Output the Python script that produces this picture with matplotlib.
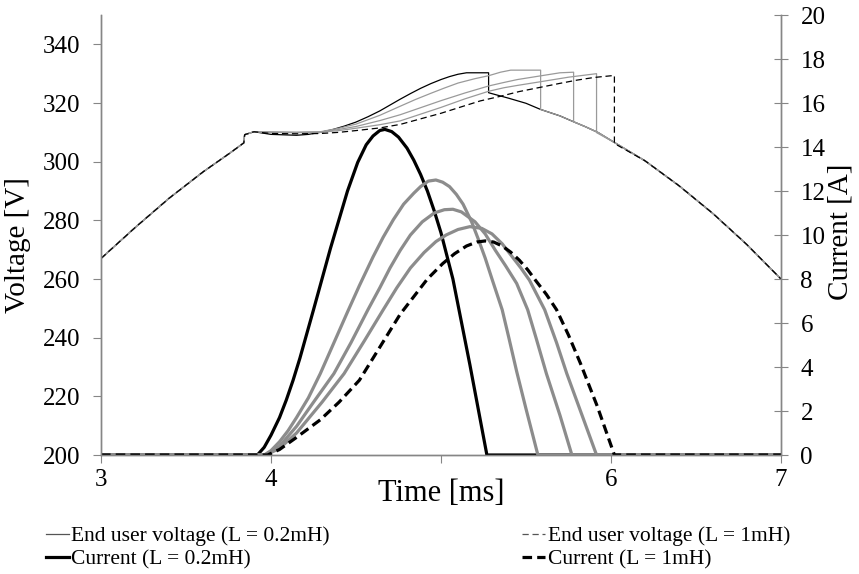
import matplotlib
matplotlib.use("Agg")
import matplotlib.pyplot as plt
from matplotlib.lines import Line2D

plt.rcParams['font.family'] = ['Liberation Serif', 'DejaVu Serif']

# --- data (time in ms) ---
# shared voltage arc before the diodes conduct
t_pre = [3.0, 3.2, 3.4, 3.6, 3.76, 3.84, 3.845, 3.9]
v_pre = [267, 277.5, 287.5, 296.5, 303, 306.4, 309.2, 310.2]

# shared voltage arc after conduction stops
t_post = [5.28, 5.4, 5.5, 5.586, 5.7, 5.78, 5.85, 5.925, 6.03, 6.2, 6.4, 6.6, 6.8, 7.0]
v_post = [323.5, 321.6, 319.9, 317.8, 315.6, 313.6, 311.9, 309.9, 306.2, 300.3, 291.8, 282.3, 271.7, 260]

# voltage while conducting, one series per inductance
t_v02 = [4.0, 4.15, 4.22, 4.29, 4.36, 4.43, 4.5, 4.57, 4.64, 4.7, 4.76, 4.82, 4.88, 4.94, 5.0, 5.05, 5.1, 5.15, 5.28]
v_v02 = [309.3, 309.0, 309.3, 310.0, 310.9, 312.1, 313.5, 315.3, 317.3, 319.3, 321.3, 323.2, 325.0, 326.6, 328.0, 329.0, 329.8, 330.3, 330.3]
t_v04 = [4.0, 4.15, 4.29, 4.4, 4.5, 4.64, 4.76, 4.85, 4.94, 5.02, 5.1, 5.2, 5.28, 5.35, 5.41, 5.586]
v_v04 = [310.1, 310.0, 310.2, 311.4, 312.8, 315.8, 318.9, 321.2, 323.3, 325.1, 326.8, 328.3, 329.3, 330.5, 331.2, 331.2]
t_v06 = [4.0, 4.15, 4.29, 4.4, 4.5, 4.64, 4.76, 4.88, 5.0, 5.14, 5.28, 5.37, 5.45, 5.58, 5.7, 5.78]
v_v06 = [310.1, 310.0, 310.1, 311.0, 312.0, 314.0, 316.0, 318.4, 320.8, 323.4, 325.8, 327.0, 328.0, 329.2, 330.3, 330.5]
t_v08 = [4.0, 4.15, 4.29, 4.4, 4.5, 4.64, 4.76, 4.88, 5.0, 5.14, 5.28, 5.37, 5.45, 5.58, 5.75, 5.915]
v_v08 = [310.0, 309.9, 310.0, 310.6, 311.4, 312.6, 313.9, 316.2, 318.5, 321.4, 324.0, 325.2, 326.0, 327.2, 328.8, 330.0]
t_v10 = [4.0, 4.15, 4.29, 4.4, 4.5, 4.64, 4.76, 4.88, 5.0, 5.12, 5.23, 5.35, 5.46, 5.58, 5.7, 5.8, 5.9, 6.02]
v_v10 = [309.6, 309.5, 309.6, 310.0, 310.6, 311.5, 312.7, 314.6, 316.5, 318.7, 320.7, 322.3, 323.9, 325.3, 326.7, 327.8, 328.7, 329.4]

# currents
t_i02 = [3.0, 3.92, 3.96, 4.0, 4.05, 4.09, 4.13, 4.17, 4.21, 4.25, 4.3, 4.35, 4.4, 4.45, 4.51, 4.56, 4.6, 4.64,
         4.67, 4.71, 4.75, 4.8, 4.84, 4.88, 4.92, 4.96, 5.0, 5.07, 5.17, 5.27, 7.0]
i_i02 = [0, 0, 0.35, 0.9, 1.7, 2.5, 3.4, 4.4, 5.5, 6.6, 8.0, 9.4, 10.7, 12.0, 13.3, 14.1, 14.5, 14.75,
         14.8, 14.7, 14.45, 13.95, 13.4, 12.75, 12.0, 11.1, 10.1, 8.0, 4.1, 0, 0]
t_i04 = [3.0, 3.96, 4.0, 4.05, 4.1, 4.15, 4.22, 4.29, 4.37, 4.45, 4.52, 4.6, 4.66, 4.72, 4.78, 4.84, 4.88,
         4.925, 4.97, 5.01, 5.05, 5.09, 5.13, 5.18, 5.22, 5.26, 5.3, 5.36, 5.4, 5.445, 5.5, 5.57, 7.0]
i_i04 = [0, 0, 0.2, 0.6, 1.1, 1.7, 2.6, 3.7, 5.1, 6.5, 7.7, 9.0, 9.9, 10.7, 11.4, 11.9, 12.2,
         12.45, 12.5, 12.4, 12.2, 11.85, 11.4, 10.6, 9.8, 8.95, 8.0, 6.6, 5.3, 3.8, 2.1, 0, 0]
t_i06 = [3.0, 3.97, 4.05, 4.15, 4.25, 4.37, 4.47, 4.57, 4.64, 4.7, 4.76, 4.82, 4.89, 4.96, 5.02, 5.07, 5.12,
         5.2, 5.26, 5.32, 5.38, 5.445, 5.51, 5.56, 5.62, 5.7, 5.77, 7.0]
i_i06 = [0, 0, 0.4, 1.3, 2.4, 3.7, 5.1, 6.6, 7.6, 8.5, 9.3, 10.0, 10.6, 11.0, 11.15, 11.17, 11.05,
         10.6, 10.05, 9.3, 8.6, 7.8, 6.6, 5.3, 3.7, 1.8, 0, 0]
t_i08 = [3.0, 3.97, 4.05, 4.15, 4.3, 4.43, 4.55, 4.66, 4.74, 4.82, 4.9, 4.97, 5.03, 5.1, 5.17, 5.24, 5.3,
         5.36, 5.42, 5.47, 5.52, 5.57, 5.61, 5.68, 5.74, 5.83, 5.915, 7.0]
i_i08 = [0, 0, 0.3, 1.0, 2.4, 3.7, 5.2, 6.6, 7.6, 8.5, 9.2, 9.7, 10.0, 10.25, 10.38, 10.3, 10.05,
         9.6, 9.0, 8.5, 7.95, 7.2, 6.6, 5.1, 3.7, 1.8, 0, 0]
t_i10 = [3.0, 3.98, 4.05, 4.15, 4.29, 4.4, 4.52, 4.64, 4.76, 4.84, 4.92, 5.01, 5.08, 5.15, 5.21, 5.26, 5.31,
         5.36, 5.41, 5.46, 5.51, 5.56, 5.62, 5.68, 5.75, 5.82, 5.92, 6.02, 7.0]
i_i10 = [0, 0, 0.25, 0.8, 1.6, 2.4, 3.4, 4.9, 6.4, 7.2, 8.0, 8.7, 9.15, 9.5, 9.68, 9.73, 9.68,
         9.5, 9.22, 8.86, 8.42, 7.9, 7.3, 6.6, 5.45, 4.17, 2.2, 0, 0]

volt_series = [(t_v02, v_v02), (t_v04, v_v04), (t_v06, v_v06), (t_v08, v_v08), (t_v10, v_v10)]
curr_series = [(t_i02, i_i02), (t_i04, i_i04), (t_i06, i_i06), (t_i08, i_i08), (t_i10, i_i10)]
colors_v = ['black', '#9a9a9a', '#9a9a9a', '#9a9a9a', 'black']
colors_i = ['black', '#8c8c8c', '#8c8c8c', '#8c8c8c', 'black']
styles = ['-', '-', '-', '-', (0, (5, 3))]

fig = plt.figure(figsize=(8.59, 5.74), dpi=100)
ax = fig.add_axes([101 / 859, 119 / 574, 680 / 859, 440 / 574])
ax2 = ax.twinx()

for (tc, vc), col, ls in zip(volt_series, colors_v, styles):
    # full trace = shared rise + own conduction part + drop onto shared fall
    t_end = tc[-1]
    tt = t_pre + tc + [t_end]
    vv = v_pre + vc
    for k, tp in enumerate(t_post):
        if tp >= t_end - 1e-9:
            vv = vv + [v_post[k]] + v_post[k + 1:]
            tt = tt + t_post[k + 1:]
            break
    ax.plot(tt, vv, color=col, lw=0.9, linestyle=ls)

for (tc, ic), col, ls in zip(curr_series, colors_i, styles):
    ls_i = (0, (3, 1.6)) if ls != '-' else '-'
    ax2.plot(tc, ic, color=col, lw=2.3, linestyle=ls_i)

ax.set_xlim(3, 7)
ax.set_ylim(200, 350)
ax2.set_ylim(0, 20)
ax.set_xticks([3, 4, 5, 6, 7])
ax.set_xticklabels(['3', '4', '', '6', '7'])
ax.set_yticks(range(200, 341, 20))
ax2.set_yticks(range(0, 21, 2))

axis_gray = '#868686'
for a in (ax, ax2):
    a.spines['top'].set_visible(False)
    for s in ('left', 'right', 'bottom'):
        a.spines[s].set_color(axis_gray)
        a.spines[s].set_linewidth(1.0)
ax.tick_params(axis='y', direction='out', length=6, color=axis_gray, labelsize=18, pad=9)
ax.tick_params(axis='x', direction='out', length=6, color=axis_gray, labelsize=18, pad=4)
ax2.tick_params(axis='y', direction='inout', length=10, color=axis_gray, labelsize=18, pad=9)

ax.set_ylabel('Voltage [V]', fontsize=21)
ax2.set_ylabel('Current [A]', fontsize=21)
ax.set_xlabel('Time [ms]', fontsize=22)
ax.xaxis.set_label_coords(0.5, -0.055)
ax.yaxis.set_label_coords(-0.103, 0.477)
ax2.yaxis.set_label_coords(1.068, 0.507)

handles = [
    Line2D([], [], color='#555555', lw=0.9),
    Line2D([], [], color='black', lw=2.3),
    Line2D([], [], color='#555555', lw=0.9, linestyle=(0, (5, 3))),
    Line2D([], [], color='black', lw=2.3, linestyle=(0, (3, 1.6))),
]
labels = ['End user voltage (L = 0.2mH)', 'Current (L = 0.2mH)',
          'End user voltage (L = 1mH)', 'Current (L = 1mH)']
fig.legend(handles, labels, ncol=2, frameon=False, fontsize=15.5,
           loc='upper left', bbox_to_anchor=(37 / 859, 0.098), borderaxespad=0,
           handlelength=1.1, handletextpad=0.1, columnspacing=8.9,
           labelspacing=0.12)

fig.savefig('out.png', dpi=100)
